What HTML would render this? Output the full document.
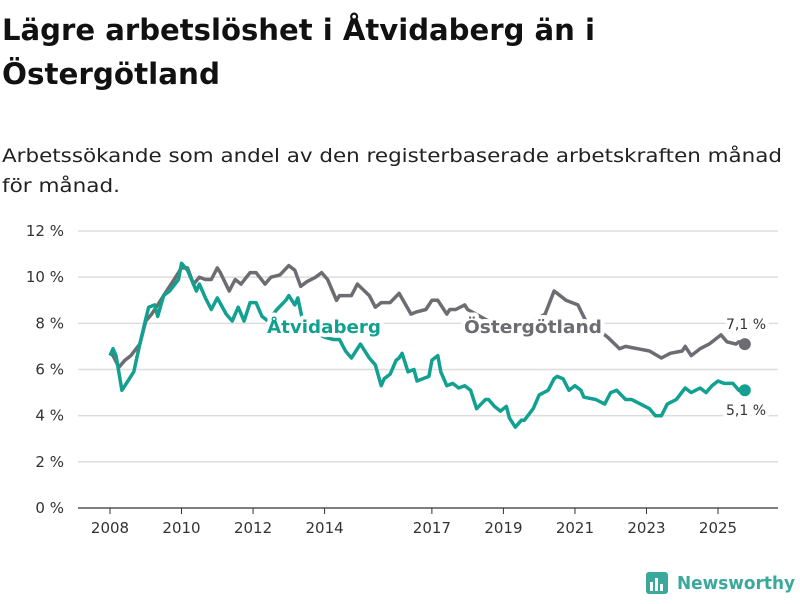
<!DOCTYPE html>
<html><head><meta charset="utf-8"><style>
body{margin:0;background:#fff;width:800px;height:600px;overflow:hidden;font-family:"DejaVu Sans","Liberation Sans",sans-serif}
</style></head><body>
<svg width="800" height="600" xmlns="http://www.w3.org/2000/svg" font-family="DejaVu Sans, Liberation Sans, sans-serif">
<text x="2" y="40" font-size="29" font-weight="bold" fill="#111" textLength="593" lengthAdjust="spacingAndGlyphs">Lägre arbetslöshet i Åtvidaberg än i</text>
<text x="2" y="84" font-size="29" font-weight="bold" fill="#111" textLength="218" lengthAdjust="spacingAndGlyphs">Östergötland</text>
<text x="2" y="162" font-size="19" fill="#222" textLength="780" lengthAdjust="spacingAndGlyphs">Arbetssökande som andel av den registerbaserade arbetskraften månad</text>
<text x="2" y="192" font-size="19" fill="#222" textLength="118" lengthAdjust="spacingAndGlyphs">för månad.</text>
<g id="grid"></g><g id="xaxis"></g><g id="series"></g><g id="labels"></g>
<g>
<rect x="646" y="572" width="22" height="22" rx="3" fill="#3aa89a"/>
<rect x="650" y="582" width="3" height="9" fill="#fff"/><rect x="655" y="578" width="3" height="13" fill="#fff"/><rect x="660" y="584" width="3" height="7" fill="#fff"/>
<text x="677" y="589" font-size="18" font-weight="bold" fill="#3aa89a" textLength="118" lengthAdjust="spacingAndGlyphs">Newsworthy</text>
</g>
</svg>
<script>
const yTicks=[0,2,4,6,8,10,12];
const xTickYears=[2008,2010,2012,2014,2017,2019,2021,2023,2025];
const ostMonths=[0,1,3,5,7,10,12,14,16,19,21,24,26,28,30,32,34,36,37,40,42,44,47,49,52,54,57,60,62,64,66,69,71,73,76,77,80,81,83,87,89,91,94,97,101,103,106,108,110,113,114,116,119,120,127,134,141,146,149,150,153,155,157,160,162,165,167,171,173,177,181,185,188,192,193,195,198,201,205,207,210,211,213];
const ostValues=[6.7,6.6,6.1,6.4,6.6,7.1,8.1,8.4,8.8,9.4,9.8,10.4,10.4,9.7,10.0,9.9,9.9,10.4,10.2,9.4,9.9,9.7,10.2,10.2,9.7,10.0,10.1,10.5,10.3,9.6,9.8,10.0,10.2,9.9,9.0,9.2,9.2,9.2,9.7,9.2,8.7,8.9,8.9,9.3,8.4,8.5,8.6,9.0,9.0,8.4,8.6,8.6,8.8,8.6,8.1,7.9,8.0,8.4,9.4,9.3,9.0,8.9,8.8,8.0,7.7,7.6,7.4,6.9,7.0,6.9,6.8,6.5,6.7,6.8,7.0,6.6,6.9,7.1,7.5,7.2,7.1,7.2,7.1];
const atvMonths=[0,1,2,4,6,8,10,12,13,15,16,18,20,23,24,26,29,30,32,34,36,39,41,43,45,47,49,51,53,56,59,60,62,63,65,69,72,75,77,79,81,84,87,89,91,92,94,96,97,98,100,102,103,107,108,110,111,113,115,117,119,121,123,126,127,129,131,133,134,136,138,139,142,144,147,149,150,152,154,156,158,159,163,166,168,170,173,175,178,181,183,185,187,190,193,195,198,200,202,204,206,209,211,212,213];
const atvValues=[6.6,6.9,6.6,5.1,5.5,5.9,7.1,8.2,8.7,8.8,8.3,9.2,9.4,9.9,10.6,10.3,9.4,9.7,9.1,8.6,9.1,8.4,8.1,8.7,8.1,8.9,8.9,8.3,8.1,8.6,9.0,9.2,8.8,9.1,7.9,7.6,7.4,7.3,7.3,6.8,6.5,7.1,6.5,6.2,5.3,5.6,5.8,6.4,6.5,6.7,5.9,6.0,5.5,5.7,6.4,6.6,5.9,5.3,5.4,5.2,5.3,5.1,4.3,4.7,4.7,4.4,4.2,4.4,3.9,3.5,3.8,3.8,4.3,4.9,5.1,5.6,5.7,5.6,5.1,5.3,5.1,4.8,4.7,4.5,5.0,5.1,4.7,4.7,4.5,4.3,4.0,4.0,4.5,4.7,5.2,5.0,5.2,5.0,5.3,5.5,5.4,5.4,5.1,5.2,5.1];
const NS="http://www.w3.org/2000/svg";
const X0=78,X1=778,Y0=508,Y12=231;
function yS(v){return Y0-(v/12)*(Y0-Y12);}
function xS(m){return 110+m*(608/204);}
function el(t,a,p){const e=document.createElementNS(NS,t);for(const k in a)e.setAttribute(k,a[k]);document.getElementById(p).appendChild(e);return e;}
yTicks.forEach(v=>{
 const l=el('line',{x1:X0,x2:X1,y1:yS(v),y2:yS(v),stroke:v===0?'#333':'#ddd','stroke-width':v===0?1.2:1.5},'grid');
 
 
 const t=el('text',{x:64,y:yS(v)+5,'font-size':15,fill:'#333','text-anchor':'end'},'grid');
 t.textContent=v+' %';
 
 
});
xTickYears.forEach(y=>{
 const x=xS((y-2008)*12);
 const l=el('line',{x1:x,x2:x,y1:Y0,y2:Y0+6,stroke:'#333'},'xaxis');
 
 
 const t=el('text',{x:x,y:Y0+25,'font-size':15,fill:'#333','text-anchor':'middle'},'xaxis');
 t.textContent=y;
 
 
});
function draw(ms,vs,color,name){
 const d=ms.map((m,i)=>(i?'L':'M')+xS(m).toFixed(1)+','+yS(vs[i]).toFixed(1)).join('');
 const p=el('path',{d:d,fill:'none',stroke:color,'stroke-width':3.5,'stroke-linejoin':'round'},'series');
 
 
 const n=ms.length-1;
 const c=el('circle',{cx:xS(ms[n]),cy:yS(vs[n]),r:6,fill:color},'series');
 
 
}
draw(ostMonths,ostValues,'#6d6c72','ostergotland');
draw(atvMonths,atvValues,'#12a091','atvidaberg');
function lab(x,y,txt,size,w,color,name,anchor,len){
 const a={x:x,y:y,'font-size':size,'font-weight':w,fill:color,stroke:'#fff','stroke-width':8,'paint-order':'stroke','stroke-linejoin':'round','text-anchor':anchor||'start'};
 if(len){a.textLength=len;a.lengthAdjust='spacingAndGlyphs';}
 const t=el('text',a,'labels');
 t.textContent=txt;
 
 
}
lab(267,333,'Åtvidaberg',18,'bold','#12a091','atvidaberg-label','start',114);
lab(464,333,'Östergötland',18,'bold','#6d6c72','ostergotland-label','start',138);
const no=ostValues.length-1, na=atvValues.length-1;
lab(746,329,ostValues[no].toFixed(1).replace('.',',')+' %',14,'normal','#333','ostergotland-end-value','middle');
lab(746,415,atvValues[na].toFixed(1).replace('.',',')+' %',14,'normal','#333','atvidaberg-end-value','middle');
</script>
</body></html>
